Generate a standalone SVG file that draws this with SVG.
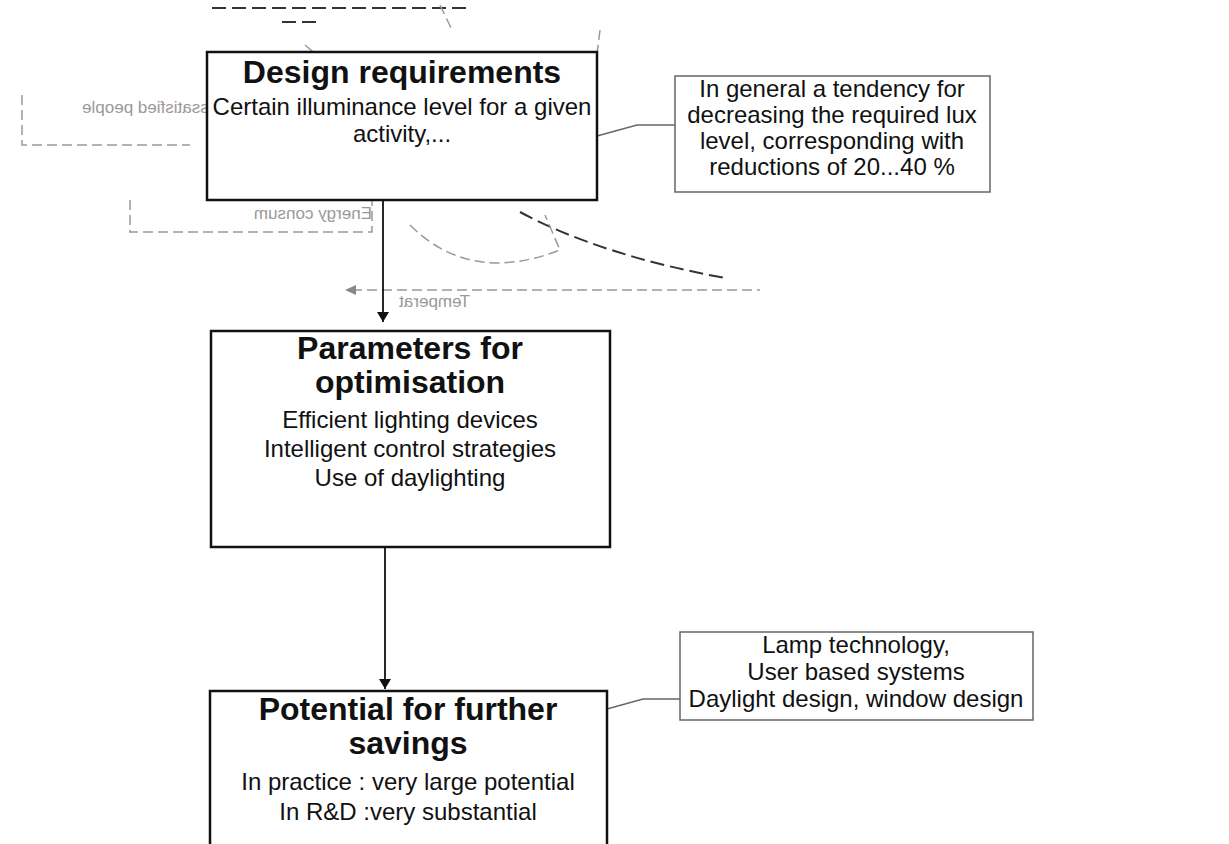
<svg xmlns="http://www.w3.org/2000/svg" width="1229" height="844" viewBox="0 0 1229 844">
<defs>
<marker id="arr" viewBox="0 0 10 12" refX="10" refY="6" markerWidth="12" markerHeight="12" orient="auto" markerUnits="userSpaceOnUse"><path d="M0,0 L10,6 L0,12 z" fill="#111"/></marker>
<style>
.main{fill:#fff;stroke:#111;stroke-width:2.5}
.side{fill:#fff;stroke:#666;stroke-width:1.5}
.title{font-family:"Liberation Sans",Arial,sans-serif;font-weight:bold;font-size:32px;fill:#111;text-anchor:middle}
.body{font-family:"Liberation Sans",Arial,sans-serif;font-size:24px;fill:#111;text-anchor:middle}
.faint{font-family:"Liberation Sans",Arial,sans-serif;font-size:17px;fill:#999}
.bg{fill:none;stroke:#999;stroke-width:1.5;stroke-dasharray:10 5}
.bgd{fill:none;stroke:#333;stroke-width:2;stroke-dasharray:14 6}
.arrow{stroke:#111;stroke-width:1.8;fill:none}
.link{stroke:#666;stroke-width:1.3;fill:none}
</style>
</defs>
<rect width="1229" height="844" fill="#fff"/>
<g id="background">
<path class="bgd" d="M212 8 H470"/>
<path class="bgd" d="M282 22 H322"/>
<path class="bg" d="M305 45 L318 56 M440 5 L452 30 M600 30 L596 62"/>
<path class="bg" d="M22 95 V145 H190"/>
<path class="bg" d="M130 200 V232 H372 V185"/>
<path class="bgd" d="M520 212 Q600 255 725 278"/>
<path class="bg" d="M410 225 Q470 285 560 250 L545 215"/>
<path class="bg" d="M352 290 H760"/>
<path d="M345 290 L356 285 L356 295 z" fill="#888"/>
<text class="faint" transform="translate(222,0) scale(-1,1)" x="0" y="113">dissatisfied people</text>
<text class="faint" transform="translate(372,0) scale(-1,1)" x="0" y="219">Energy consum</text>
<text class="faint" font-size="13" transform="translate(470,0) scale(-1,1)" x="0" y="307">Temperat</text>
</g>
<g id="connectors">
<path class="arrow" d="M383 200 V322" marker-end="url(#arr)"/>
<path class="arrow" d="M385 547 V689" marker-end="url(#arr)"/>
<path class="link" d="M597 136 L637 125 H675"/>
<path class="link" d="M607 709 L643 699 H680"/>
</g>
<g id="design-requirements">
<rect class="main" x="207" y="52" width="390" height="148"/>
<text class="title" x="402" y="83">Design requirements</text>
<text class="body" x="402" y="115">Certain illuminance level for a given</text>
<text class="body" x="402" y="142">activity,...</text>
</g>
<g id="lux-tendency">
<rect class="side" x="675" y="76" width="315" height="116"/>
<text class="body" font-size="19" x="832" y="97">In general a tendency for</text>
<text class="body" font-size="19" x="832" y="123">decreasing the required lux</text>
<text class="body" font-size="19" x="832" y="149">level, corresponding with</text>
<text class="body" font-size="19" x="832" y="175">reductions of 20...40 %</text>
</g>
<g id="parameters">
<rect class="main" x="211" y="331" width="399" height="216"/>
<text class="title" x="410" y="359">Parameters for</text>
<text class="title" x="410" y="393">optimisation</text>
<text class="body" x="410" y="428">Efficient lighting devices</text>
<text class="body" x="410" y="457">Intelligent control strategies</text>
<text class="body" x="410" y="486">Use of daylighting</text>
</g>
<g id="potential">
<rect class="main" x="210" y="691" width="397" height="160"/>
<text class="title" x="408" y="720">Potential for further</text>
<text class="title" x="408" y="754">savings</text>
<text class="body" font-size="21" x="408" y="790">In practice : very large potential</text>
<text class="body" font-size="21" x="408" y="820">In R&amp;D :very substantial</text>
</g>
<g id="lamp-technology">
<rect class="side" x="680" y="632" width="353" height="88"/>
<text class="body" x="856" y="653">Lamp technology,</text>
<text class="body" x="856" y="680">User based systems</text>
<text class="body" x="856" y="707">Daylight design, window design</text>
</g>
</svg>
